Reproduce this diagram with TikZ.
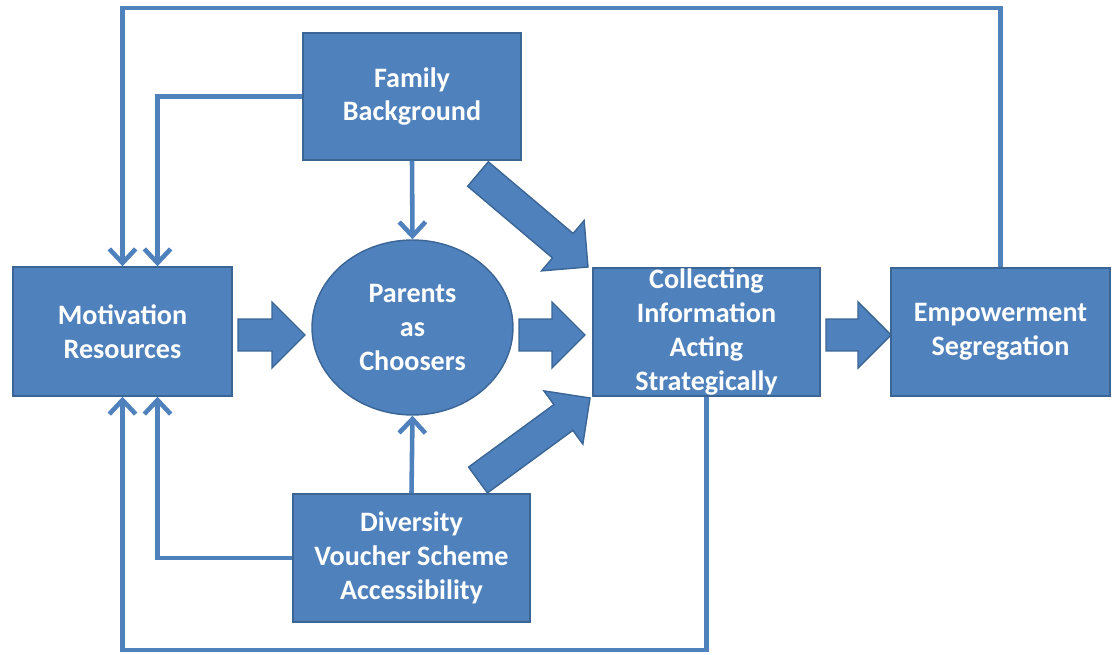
\documentclass[tikz,border=0pt]{standalone}
\usepackage{fontspec}
\setmainfont{Carlito}
\usetikzlibrary{arrows.meta,calc,shapes.geometric}

\definecolor{boxblue}{HTML}{4F81BD}
\definecolor{edgeblue}{HTML}{3A6595}

% block arrow from tail to tip
\newcommand{\fatarrow}[2]{%
  \coordinate (hb) at ($(#2)!0.66cm!(#1)$);
  \draw[fat] ($(#1)!0.32cm!90:(#2)$) -- ($(hb)!0.32cm!-90:(#1)$)
    -- ($(hb)!0.66cm!-90:(#1)$) -- (#2) -- ($(hb)!0.66cm!90:(#1)$)
    -- ($(hb)!0.32cm!90:(#1)$) -- ($(#1)!0.32cm!-90:(#2)$) -- cycle;}

\begin{document}
\begin{tikzpicture}
  [x=0.02cm,y=-0.02cm,
   every node/.style={fill=boxblue,draw=edgeblue,line width=0.8pt,text=white,
     font=\fontsize{16}{19.3}\selectfont\bfseries,align=center,inner sep=0pt},
   box/.style={rectangle,minimum height=2.56cm},
   link/.style={draw=boxblue,line width=2.6pt,-{Straight Barb[length=8pt,width=15pt]}},
   fat/.style={fill=boxblue,draw=edgeblue,line width=0.8pt,line join=miter}]
  \useasboundingbox (0,0) rectangle (1113,655);

  \node[box,minimum width=4.36cm,minimum height=2.54cm] (fam) at (412,96.5) {Family\\Background};
  \node[box,minimum width=4.38cm,minimum height=2.58cm] (mot) at (122.5,331.5) {Motivation\\Resources};
  \node[ellipse,minimum width=4.02cm,minimum height=3.5cm] (ell) at (412.5,327.5) {Parents\\as\\Choosers};
  \node[box,minimum width=4.54cm] (col) at (706.5,332) {Collecting\\Information\\Acting\\Strategically};
  \node[box,minimum width=4.38cm] (emp) at (1000.5,332) {Empowerment\\Segregation};
  \node[box,minimum width=4.74cm] (div) at (411.5,558) {Diversity\\Voucher Scheme\\Accessibility};

  \coordinate (top) at (0,8);
  \coordinate (bot) at (0,650);

  % thin feedback lines
  \draw[link] (emp.north) -- (emp.north |- top) -| (mot.north);
  \draw[link] (col.south) -- (col.south |- bot) -| (mot.south);
  \draw[link] (fam.west) -| ([xshift=0.7cm]mot.north);
  \draw[link] (div.west) -| ([xshift=0.7cm]mot.south);
  \draw[link] (fam.south) -- (ell.north);
  \draw[link] (div.south |- div.north) -- (ell.south);

  % block arrows
  \coordinate (a1) at (238,335);  \coordinate (b1) at (305,335);
  \coordinate (a2) at (519,335);  \coordinate (b2) at (585,335);
  \coordinate (a3) at (826,335);  \coordinate (b3) at (891,335);
  \coordinate (a4) at (478,174);  \coordinate (b4) at (588,267);
  \coordinate (a5) at (478,480);  \coordinate (b5) at (590,398);
  \foreach \from/\to in {a1/b1, a2/b2, a3/b3, a4/b4, a5/b5}
    \fatarrow{\from}{\to};
\end{tikzpicture}
\end{document}
